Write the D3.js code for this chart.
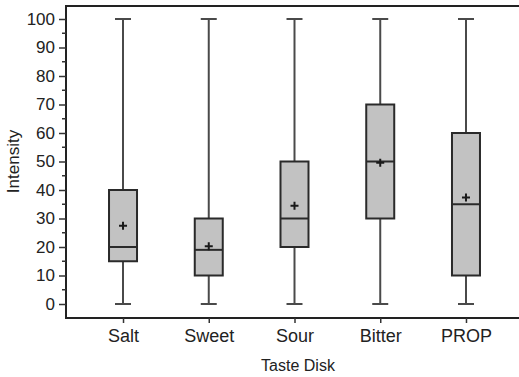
<!DOCTYPE html>
<html>
<head>
<meta charset="utf-8">
<script src="https://cdn.jsdelivr.net/npm/d3@7"></script>
<style>
  body { margin: 0; background: #fff; overflow: hidden; }
  svg { display: block; }
  text { font-family: "Liberation Sans", Arial, sans-serif; fill: #222; }
</style>
</head>
<body>
<div id="chart"></div>
<script>
const categories = ["Salt", "Sweet", "Sour", "Bitter", "PROP"];
const mins    = [0, 0, 0, 0, 0];
const q1s     = [15, 10, 20, 30, 10];
const medians = [20, 19, 30, 50, 35];
const q3s     = [40, 30, 50, 70, 60];
const maxs    = [100, 100, 100, 100, 100];
const means   = [27.5, 20.3, 34.5, 49.6, 37.4];
const yTicks  = d3.range(0, 101, 10);

const width = 519, height = 377;
const plotLeft = 66, plotTop = 6, plotRight = 523, plotBottom = 318;

const svg = d3.select("#chart").append("svg")
  .attr("width", width)
  .attr("height", height);

const x = d3.scalePoint()
  .domain(categories)
  .range([plotLeft, plotRight])
  .padding(0.665);

const y = d3.scaleLinear()
  .domain([0, 100])
  .range([304, 19]);

// frame: top, left and bottom (the right side is cut off in the picture)
svg.append("path")
  .attr("d", `M${width + 5},${plotTop}H${plotLeft}V${plotBottom}H${width + 5}`)
  .attr("fill", "none")
  .attr("stroke", "#222")
  .attr("stroke-width", 2);

// y axis
const yAxis = svg.append("g")
  .attr("transform", `translate(${plotLeft},0)`)
  .call(d3.axisLeft(y).tickValues(yTicks).tickSize(7).tickPadding(4));
yAxis.select(".domain").remove();
yAxis.selectAll("line").attr("stroke", "#333").attr("stroke-width", 1.5);
yAxis.selectAll("text").attr("font-size", 17).attr("fill", "#222")
  .style("font-family", "'Liberation Sans', Arial, sans-serif");

// minor ticks
svg.append("g").selectAll("line")
  .data(d3.range(5, 100, 10))
  .join("line")
  .attr("x1", plotLeft - 4).attr("x2", plotLeft)
  .attr("y1", d => y(d)).attr("y2", d => y(d))
  .attr("stroke", "#333").attr("stroke-width", 1.5);

// x axis
const xAxis = svg.append("g")
  .attr("transform", `translate(0,${plotBottom})`)
  .call(d3.axisBottom(x).tickSize(5).tickPadding(6));
xAxis.select(".domain").remove();
xAxis.selectAll("line").attr("stroke", "#333").attr("stroke-width", 1.5);
xAxis.selectAll("text").attr("font-size", 18).attr("fill", "#222")
  .style("font-family", "'Liberation Sans', Arial, sans-serif");

// axis titles
svg.append("text")
  .attr("x", 298).attr("y", 371)
  .attr("text-anchor", "middle")
  .attr("font-size", 16)
  .text("Taste Disk");

svg.append("text")
  .attr("transform", `translate(19,${(y(0) + y(100)) / 2}) rotate(-90)`)
  .attr("text-anchor", "middle")
  .attr("font-size", 17)
  .text("Intensity");

const boxW = 28, capW = 16;
const boxes = svg.append("g").selectAll("g")
  .data(categories.map((c, i) => ({
    c, min: mins[i], q1: q1s[i], med: medians[i], q3: q3s[i], max: maxs[i], mean: means[i]
  })))
  .join("g")
  .attr("transform", d => `translate(${x(d.c)},0)`);

// whiskers
boxes.append("line")
  .attr("x1", 0).attr("x2", 0)
  .attr("y1", d => y(d.max)).attr("y2", d => y(d.q3))
  .attr("stroke", "#4a4a4a").attr("stroke-width", 2);
boxes.append("line")
  .attr("x1", 0).attr("x2", 0)
  .attr("y1", d => y(d.q1)).attr("y2", d => y(d.min))
  .attr("stroke", "#4a4a4a").attr("stroke-width", 2);
boxes.append("line")
  .attr("x1", -capW / 2).attr("x2", capW / 2)
  .attr("y1", d => y(d.max)).attr("y2", d => y(d.max))
  .attr("stroke", "#4a4a4a").attr("stroke-width", 2);
boxes.append("line")
  .attr("x1", -capW / 2).attr("x2", capW / 2)
  .attr("y1", d => y(d.min)).attr("y2", d => y(d.min))
  .attr("stroke", "#4a4a4a").attr("stroke-width", 2);

// box
boxes.append("rect")
  .attr("x", -boxW / 2).attr("width", boxW)
  .attr("y", d => y(d.q3))
  .attr("height", d => y(d.q1) - y(d.q3))
  .attr("fill", "#c2c2c2")
  .attr("stroke", "#2a2a2a").attr("stroke-width", 2);

// median
boxes.append("line")
  .attr("x1", -boxW / 2).attr("x2", boxW / 2)
  .attr("y1", d => y(d.med)).attr("y2", d => y(d.med))
  .attr("stroke", "#2a2a2a").attr("stroke-width", 2);

// mean marker
boxes.append("path")
  .attr("d", d => `M-4,${y(d.mean)}H4M0,${y(d.mean) - 4}V${y(d.mean) + 4}`)
  .attr("stroke", "#1a1a1a").attr("stroke-width", 2).attr("fill", "none");
</script>
</body>
</html>
